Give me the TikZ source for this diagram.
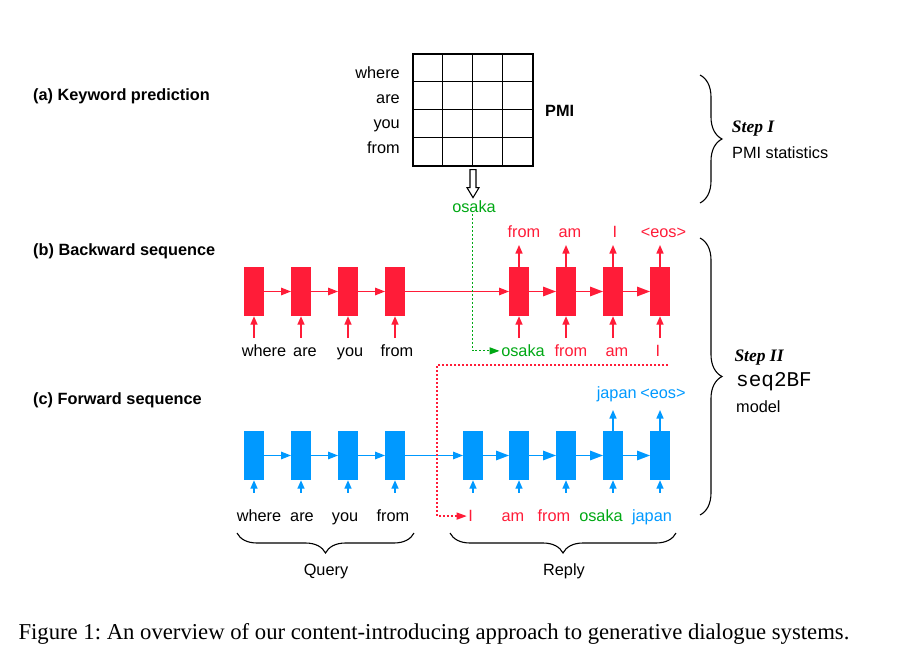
\documentclass[tikz,border=0pt]{standalone}
\usepackage{fontspec}
\setmainfont{Liberation Serif}
\setsansfont{Liberation Sans}
\setmonofont{Liberation Mono}
\usetikzlibrary{arrows.meta,decorations.pathreplacing,calc}
\definecolor{rnn}{RGB}{255,28,56}
\definecolor{bnn}{RGB}{0,153,255}
\definecolor{gkw}{RGB}{0,168,20}
\frenchspacing
\begin{document}
\begin{tikzpicture}[x=1pt,y=-1pt,
  lbl/.style={font=\sffamily\fontsize{16.3}{18}\selectfont, inner sep=1.5pt, anchor=base},
  ttl/.style={font=\sffamily\bfseries\fontsize{16.3}{19}\selectfont, inner sep=0pt, anchor=base west},
  rowlbl/.style={font=\sffamily\fontsize{16.3}{18}\selectfont, inner sep=0pt, anchor=base east},
  rbox/.style={fill=rnn, minimum width=19.5pt, minimum height=49pt, inner sep=0pt},
  bbox/.style={fill=bnn, minimum width=19.5pt, minimum height=49pt, inner sep=0pt},
  harr/.style={-{Triangle[length=10pt,width=7.5pt]}, line width=1.4pt},
  harrb/.style={-{Triangle[length=13pt,width=9.5pt]}, line width=1.4pt},
  varr/.style={-{Triangle[length=8.5pt,width=7pt]}, line width=1.4pt},
  dotarr/.style={-{Triangle[length=10pt,width=7pt]}, line width=1.2pt, dash pattern=on 2pt off 2pt},
  brc/.style={decorate, decoration={brace, amplitude=#1}, line width=1.1pt},
  brc/.default=20pt
]
\useasboundingbox (0,0) rectangle (906,656);

% ---- section titles
\node[ttl] (ta) at (33,100.7) {(a) Keyword prediction};
\node[ttl] (tb) at (33,255.7) {(b) Backward sequence};
\node[ttl] (tc) at (33,404) {(c) Forward sequence};

% ---- PMI grid
\node[draw, line width=1.3pt, minimum width=120pt, minimum height=112pt, inner sep=0pt] (grid) at (473,110) {};
\foreach \i in {1,2,3} {
  \draw[line width=1.3pt] ($(grid.north west)+(30*\i,0)$) -- ($(grid.south west)+(30*\i,0)$);
  \draw[line width=1.3pt] ($(grid.north west)+(0,28*\i)$) -- ($(grid.north east)+(0,28*\i)$);
}
\node[rowlbl] (rw1) at (400,78) {where};
\node[rowlbl] (rw2) at (400,103) {are};
\node[rowlbl] (rw3) at (400,128) {you};
\node[rowlbl] (rw4) at (400,153) {from};
\node[ttl] (pmi) at (545,116.7) {PMI};

% hollow arrow
\draw[line width=1.1pt, fill=white] ([shift={(-3,3)}]grid.south) -- ++(6,0) -- ++(0,18) -- ++(3,0) -- ++(-6,10) -- ++(-6,-10) -- ++(3,0) -- cycle;
\node[lbl, text=gkw] (osk) at (474,212) {osaka};

% ---- backward sequence
\foreach \n/\x in {1/254,2/301,3/348,4/395,5/519,6/566,7/613,8/660}
  \node[rbox] (b\n) at (\x,291.5) {};
\foreach \a/\b in {1/2,2/3,3/4,4/5}
  \draw[harr, rnn] (b\a.east) -- (b\b.west);
\foreach \a/\b in {5/6,6/7,7/8}
  \draw[harrb, rnn] (b\a.east) -- (b\b.west);
% inputs
\foreach \n/\x in {1/254,2/301,3/348,4/395,5/519,6/566,7/613,8/660} {
  \coordinate (bi\n) at (\x,338);
  \draw[varr, rnn] (bi\n) -- (b\n.south);
}
% outputs
\foreach \n/\x in {5/519,6/566,7/613,8/660} {
  \coordinate (bo\n) at (\x,245);
  \draw[varr, rnn] (b\n.north) -- (bo\n);
}
\node[lbl] (bl1) at (264,356.7) {where};
\node[lbl] (bl2) at (305,356.7) {are};
\node[lbl] (bl3) at (350,356.7) {you};
\node[lbl] (bl4) at (397,356.7) {from};
\node[lbl, text=gkw] (osb) at (523,356.7) {osaka};
\node[lbl, text=rnn] (bl6) at (571,356.7) {from};
\node[lbl, text=rnn] (bl7) at (617,356.7) {am};
\node[lbl, text=rnn] (bl8) at (658,356.7) {I};
\node[lbl, text=rnn] (bt5) at (524,237) {from};
\node[lbl, text=rnn] (bt6) at (570,237) {am};
\node[lbl, text=rnn] (bt7) at (615,237) {I};
\node[lbl, text=rnn] (bt8) at (663.5,237) {<eos>};

% green keyword link
\draw[dotarr, gkw] ([xshift=-1.5pt]osk.south) |- (osb.west);

% ---- forward sequence
\foreach \n/\x in {1/254,2/301,3/348,4/395,5/473,6/519,7/566,8/613,9/660}
  \node[bbox] (f\n) at (\x,455.5) {};
\foreach \a/\b in {1/2,2/3,3/4,4/5}
  \draw[harr, bnn] (f\a.east) -- (f\b.west);
\foreach \a/\b in {5/6,6/7,7/8,8/9}
  \draw[harrb, bnn] (f\a.east) -- (f\b.west);
\foreach \n/\x in {1/254,2/301,3/348,4/395,5/473,6/519,7/566,8/613,9/660} {
  \coordinate (fi\n) at (\x,492.7);
  \draw[varr, bnn] (fi\n) -- (f\n.south);
}
\foreach \n/\x in {8/613,9/660} {
  \coordinate (fo\n) at (\x,410);
  \draw[varr, bnn] (f\n.north) -- (fo\n);
}
\node[lbl] (fl1) at (259,521.7) {where};
\node[lbl] (fl2) at (302,521.7) {are};
\node[lbl] (fl3) at (345,521.7) {you};
\node[lbl] (fl4) at (393,521.7) {from};
\node[lbl, text=rnn] (fI) at (470.7,521.7) {I};
\node[lbl, text=rnn] (fl6) at (513,521.7) {am};
\node[lbl, text=rnn] (fl7) at (554,521.7) {from};
\node[lbl, text=gkw] (fl8) at (601,521.7) {osaka};
\node[lbl, text=bnn] (fl9) at (652,521.7) {japan};
\node[lbl, text=bnn] (ft8) at (616.7,398) {japan};
\node[lbl, text=bnn] (ft9) at (663,398) {<eos>};

% red link from backward output to forward input
\coordinate (rd) at (668,365);
\coordinate (rbend) at (437,365);
\draw[dotarr, rnn] (rd) -- (rbend) |- (fI.west);

% ---- bottom braces
\coordinate (qa) at (414,533); \coordinate (qb) at (237,533);
\coordinate (ra) at (676,533); \coordinate (rb) at (450,533);
\draw[brc] (qa) -- (qb);
\draw[brc] (ra) -- (rb);
\node[lbl] (qry) at (326,575) {Query};
\node[lbl] (rpl) at (564,575) {Reply};

% ---- right braces
\coordinate (s1a) at (700,75); \coordinate (s1b) at (700,203);
\coordinate (s2a) at (700,238); \coordinate (s2b) at (700,515);
\draw[brc=22pt] (s1a) -- (s1b);
\draw[brc=22pt] (s2a) -- (s2b);
\node[font=\bfseries\itshape\fontsize{17.5}{20}\selectfont, inner sep=0pt, anchor=base west] (st1) at (731.7,132.7) {Step I};
\node[font=\sffamily\fontsize{16.3}{18}\selectfont, inner sep=0pt, anchor=base west] (st1b) at (732,158.3) {PMI statistics};
\node[font=\bfseries\itshape\fontsize{17.5}{20}\selectfont, inner sep=0pt, anchor=base west] (st2) at (734.3,361.7) {Step II};
\node[font=\ttfamily\fontsize{21}{24}\selectfont, inner sep=0pt, anchor=base west] (st2b) at (736,386.7) {seq2BF};
\node[font=\sffamily\fontsize{16.3}{18}\selectfont, inner sep=0pt, anchor=base west] (st2c) at (736,412.7) {model};

% ---- caption
\node[font=\fontsize{22.7}{26}\selectfont, inner sep=0pt, anchor=base west] (cap) at (18.3,639.3) {Figure 1: An overview of our content-introducing approach to generative dialogue systems.};
\end{tikzpicture}
\end{document}
